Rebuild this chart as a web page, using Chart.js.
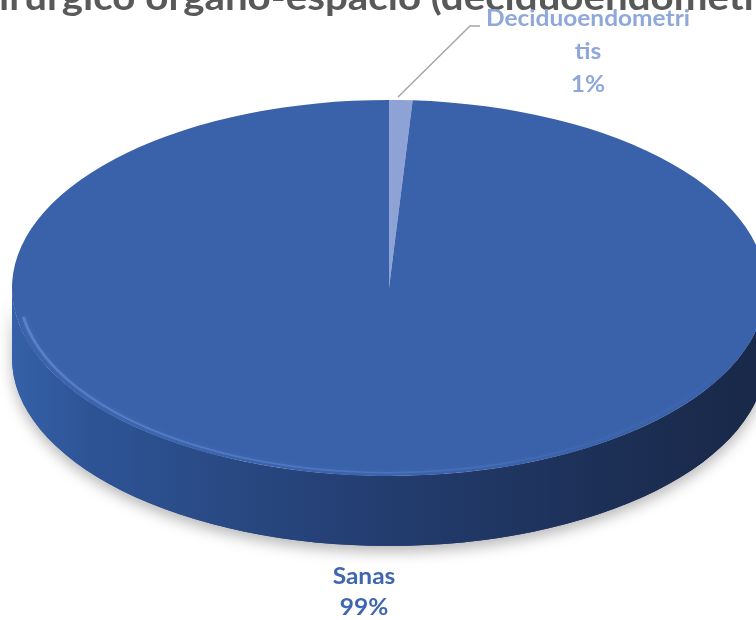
<!DOCTYPE html>
<html>
<head>
<meta charset="utf-8">
<script src="https://cdn.jsdelivr.net/npm/chart.js@4.4.1/dist/chart.umd.min.js"></script>
<style>
  html, body { margin: 0; padding: 0; background: #fff; overflow: hidden; }
  #wrap { width: 756px; height: 620px; position: relative; }
</style>
</head>
<body>
<div id="wrap"><canvas id="pieChart"></canvas></div>
<script>
// --- DATOS ---
const categories = ['Deciduoendometritis', 'Sanas'];
const values = [1, 99];
const labelLines = [['Deciduoendometri', 'tis'], ['Sanas']]; // como Excel parte la etiqueta
const titleText = 'irúrgico órgano-espacio (deciduoendometri'; // el título sale recortado

// --- ESTILO ---
const sliceColors = ['#8FA2D6', '#3A62AB'];
const labelColors = ['#8EA8DB', '#3F67B0'];
const titleColor = '#595959';
const fontFamily = 'Lato, "Open Sans", sans-serif';

// geometría de la elipse (vista 3D)
const pieCx = 389, pieCy = 288, pieRx = 377, pieRy = 188, depth = 70;

// texto estrechado en horizontal (para parecerse a Calibri)
function condensedText(ctx, text, x, y, size, squeeze) {
  ctx.font = 'bold ' + size + 'px ' + fontFamily;
  ctx.save();
  ctx.translate(x, y);
  ctx.scale(squeeze, 1);
  ctx.fillText(text, 0, 0);
  ctx.restore();
}
function squeezeFor(ctx, text, size, width) {
  ctx.font = 'bold ' + size + 'px ' + fontFamily;
  return width / ctx.measureText(text).width;
}

const pie3d = {
  id: 'pie3d',
  beforeDatasetsDraw(chart) {
    const ctx = chart.ctx;
    const arcs = chart.getDatasetMeta(0).data;
    const R = arcs[0].outerRadius, cx = arcs[0].x, cy = arcs[0].y;
    const sx = pieRx / R, sy = pieRy / R;
    ctx.save();
    ctx.translate(pieCx, pieCy);
    ctx.scale(sx, sy);
    ctx.translate(-cx, -cy);
    const d = depth / sy;

    // pared lateral (solo la parte de delante, 0..PI)
    const grad = ctx.createLinearGradient(cx - R, 0, cx + R, 0);
    grad.addColorStop(0, '#3561A8');
    grad.addColorStop(0.1, '#2E5496');
    grad.addColorStop(0.45, '#243F73');
    grad.addColorStop(0.8, '#1C2F55');
    grad.addColorStop(1, '#192848');

    arcs.forEach((arc) => {
      [0, 2 * Math.PI].forEach((k) => {
        const a = Math.max(arc.startAngle, k);
        const b = Math.min(arc.endAngle, k + Math.PI);
        if (b <= a) return;
        ctx.beginPath();
        ctx.arc(cx, cy, R, a, b);
        ctx.arc(cx, cy + d, R, b, a, true);
        ctx.closePath();
        ctx.save();
        ctx.shadowColor = 'rgba(0,0,0,0.28)';
        ctx.shadowBlur = 14;
        ctx.shadowOffsetY = 6;
        ctx.fillStyle = grad;
        ctx.fill();
        ctx.restore();
        ctx.fillStyle = grad;
        ctx.fill();
      });
    });
  },
  afterDatasetsDraw(chart) {
    const ctx = chart.ctx;
    const arcs = chart.getDatasetMeta(0).data;
    const R = arcs[0].outerRadius, cx = arcs[0].x, cy = arcs[0].y;
    // brillo suave del bisel en el borde delantero
    const hl = ctx.createLinearGradient(cx - R, 0, cx + R, 0);
    hl.addColorStop(0, 'rgba(120,160,230,0.45)');
    hl.addColorStop(0.5, 'rgba(110,150,225,0.3)');
    hl.addColorStop(1, 'rgba(80,110,170,0.0)');
    ctx.save();
    ctx.shadowColor = 'rgba(110,150,225,0.6)';
    ctx.shadowBlur = 4;
    ctx.beginPath();
    ctx.arc(cx, cy, R * 0.982, Math.PI * 0.15, Math.PI * 0.95);
    ctx.strokeStyle = hl;
    ctx.lineWidth = 2.5;
    ctx.stroke();
    ctx.restore();
    ctx.restore();

    // línea guía hacia la etiqueta pequeña
    ctx.save();
    ctx.strokeStyle = '#A6A6A6';
    ctx.lineWidth = 1.5;
    ctx.beginPath();
    ctx.moveTo(398, 97);
    ctx.lineTo(470, 26);
    ctx.lineTo(480, 26);
    ctx.stroke();
    ctx.restore();
  },
  afterDraw(chart) {
    const ctx = chart.ctx;
    const total = values.reduce((s, v) => s + v, 0);
    ctx.save();

    // título recortado
    ctx.fillStyle = titleColor;
    ctx.textAlign = 'left';
    ctx.textBaseline = 'alphabetic';
    const tSize = 36;
    condensedText(ctx, titleText, -1, 10, tSize, squeezeFor(ctx, titleText, tSize, 770));

    // etiquetas de datos
    const lSize = 23;
    const sq = squeezeFor(ctx, 'Deciduoendometri', lSize, 204);
    ctx.textAlign = 'center';
    ctx.textBaseline = 'middle';
    const labelPos = [[588, 19, 33], [364, 577, 31]];
    categories.forEach((c, i) => {
      const lines = labelLines[i].concat([Math.round(values[i] / total * 100) + '%']);
      ctx.fillStyle = labelColors[i];
      lines.forEach((t, j) => {
        condensedText(ctx, t, labelPos[i][0], labelPos[i][1] + j * labelPos[i][2], lSize, sq);
      });
    });
    ctx.restore();
  }
};

new Chart(document.getElementById('pieChart'), {
  type: 'pie',
  data: {
    labels: categories,
    datasets: [{
      data: values,
      backgroundColor: sliceColors,
      borderWidth: 0,
      clip: false
    }]
  },
  options: {
    responsive: true,
    maintainAspectRatio: false,
    animation: false,
    layout: { padding: 0 },
    plugins: {
      legend: { display: false },
      tooltip: { enabled: false },
      title: { display: false }
    }
  },
  plugins: [pie3d]
});
</script>
</body>
</html>
